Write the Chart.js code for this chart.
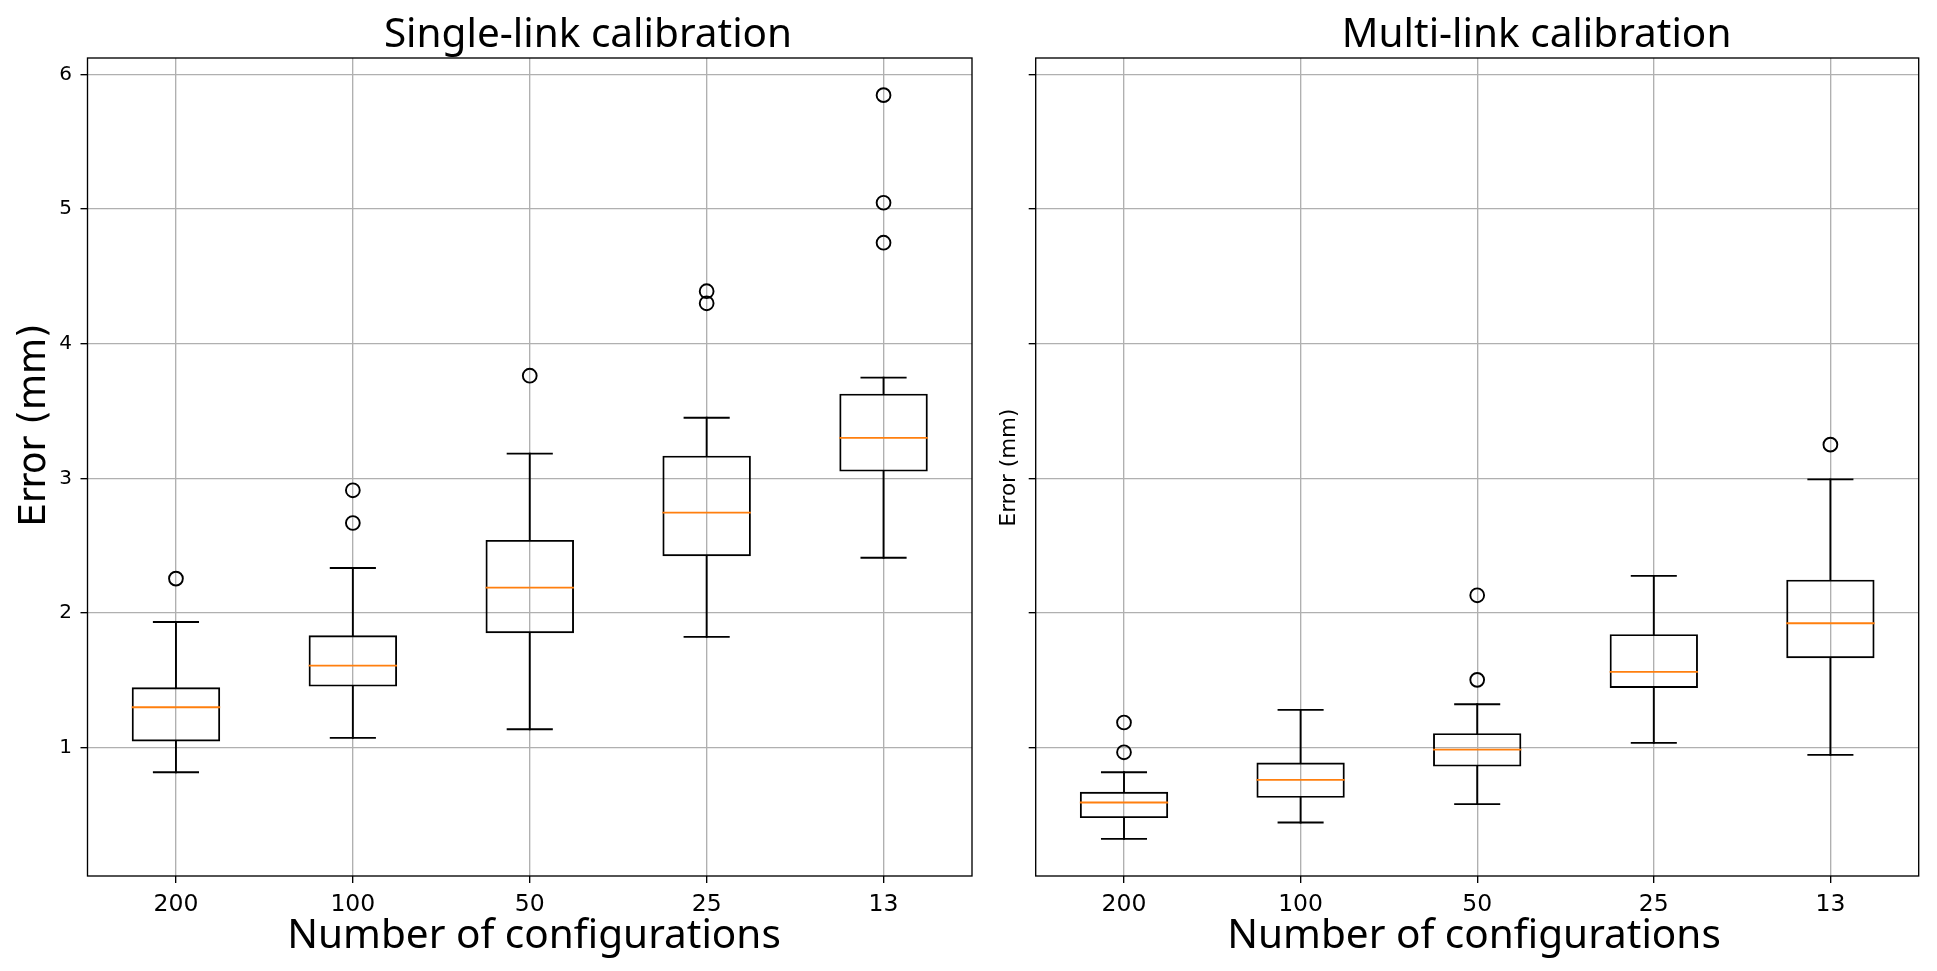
<!DOCTYPE html>
<html><head><meta charset="utf-8">
<script src="https://cdn.jsdelivr.net/npm/chart.js@4.4.1/dist/chart.umd.min.js"></script>
<style>
html,body{margin:0;padding:0;background:#fff;width:1937px;height:971px;overflow:hidden}
#c1{position:absolute;left:0;top:0}
#c2{position:absolute;left:985px;top:0}
</style>
</head><body>
<canvas id="c1" width="985" height="971"></canvas>
<canvas id="c2" width="952" height="971"></canvas>
<script>
// ---------- data ----------
const categories = ['200', '100', '50', '25', '13'];
const yTicks = [1, 2, 3, 4, 5, 6];
const yMin = 0.046, yMax = 6.122;

// Single-link calibration
const singleWhiskerLow  = [0.817, 1.072, 1.136, 1.822, 2.410];
const singleQ1          = [1.045, 1.453, 1.849, 2.421, 3.050];
const singleMedian      = [1.300, 1.609, 2.188, 2.745, 3.300];
const singleQ3          = [1.448, 1.834, 2.542, 3.168, 3.629];
const singleWhiskerHigh = [1.933, 2.334, 3.183, 3.450, 3.748];
const singleOutliers    = [[2.255], [2.668, 2.911], [3.762], [4.300, 4.390], [4.750, 5.047, 5.846]];

// Multi-link calibration
const multiWhiskerLow  = [0.322, 0.443, 0.580, 1.035, 0.946];
const multiQ1          = [0.476, 0.627, 0.859, 1.443, 1.664];
const multiMedian      = [0.592, 0.760, 0.985, 1.562, 1.923];
const multiQ3          = [0.671, 0.889, 1.107, 1.842, 2.247];
const multiWhiskerHigh = [0.817, 1.280, 1.322, 2.275, 2.992];
const multiOutliers    = [[0.965, 1.186], [], [1.503, 2.131], [], [3.250]];

// ---------- drawing helpers ----------
const LW = 1.9, GRID_LW = 1.35;
const boxPlugin = {
  id: 'boxextras',
  beforeDatasetsDraw(chart) {
    const a = chart.chartArea, ctx = chart.ctx;
    ctx.save();
    ctx.strokeStyle = '#000'; ctx.lineWidth = GRID_LW;
    ctx.strokeRect(a.left, a.top, a.right - a.left, a.bottom - a.top);
    ctx.restore();
  },
  afterDatasetsDraw(chart) {
    const st = chart.options.plugins.boxextras.stats;
    const xs = chart.scales.x, ys = chart.scales.y, ctx = chart.ctx;
    const bw = (xs.getPixelForValue(1) - xs.getPixelForValue(0)) * 0.5;
    ctx.save();
    categories.forEach((c, i) => {
      const x = xs.getPixelForValue(i);
      ctx.lineCap = 'square';
      ctx.strokeStyle = '#000'; ctx.lineWidth = LW;
      ctx.beginPath();
      ctx.moveTo(x, ys.getPixelForValue(st.q3[i])); ctx.lineTo(x, ys.getPixelForValue(st.hi[i]));
      ctx.moveTo(x, ys.getPixelForValue(st.q1[i])); ctx.lineTo(x, ys.getPixelForValue(st.lo[i]));
      ctx.stroke();
      ctx.beginPath();
      ctx.moveTo(x - bw / 4, ys.getPixelForValue(st.hi[i])); ctx.lineTo(x + bw / 4, ys.getPixelForValue(st.hi[i]));
      ctx.moveTo(x - bw / 4, ys.getPixelForValue(st.lo[i])); ctx.lineTo(x + bw / 4, ys.getPixelForValue(st.lo[i]));
      ctx.stroke();
      ctx.lineCap = 'butt';
      ctx.strokeStyle = '#ff7f0e';
      ctx.beginPath();
      ctx.moveTo(x - bw / 2, ys.getPixelForValue(st.med[i])); ctx.lineTo(x + bw / 2, ys.getPixelForValue(st.med[i]));
      ctx.stroke();
    });
    ctx.restore();
  },
  afterDraw(chart) {
    const o = chart.options.plugins.boxextras, ctx = chart.ctx;
    ctx.save();
    ctx.fillStyle = '#000';
    ctx.textAlign = 'center'; ctx.textBaseline = 'alphabetic';
    ctx.font = "40.5px 'Noto Sans'";
    ctx.fillText(o.title, o.titleX, 47);
    ctx.fillText('Number of configurations', o.xlabelX, 947.5);
    ctx.translate(o.ylabelX, o.ylabelY);
    ctx.rotate(-Math.PI / 2);
    ctx.font = o.ylabelSize + "px 'DejaVu Sans'";
    ctx.fillText('Error (mm)', 0, 0);
    ctx.restore();
  }
};

function buildChart(id, s, L) {
  const pts = [];
  s.out.forEach((arr, i) => arr.forEach(v => pts.push({ x: categories[i], y: v })));
  return new Chart(document.getElementById(id), {
    type: 'bar',
    data: {
      labels: categories,
      datasets: [
        { type: 'bar', data: s.q1.map((v, i) => [v, s.q3[i]]),
          backgroundColor: 'rgba(0,0,0,0)', borderColor: '#000', borderWidth: LW,
          borderSkipped: false, barPercentage: 0.5, categoryPercentage: 1, order: 2 },
        { type: 'line', data: pts, showLine: false, pointStyle: 'circle',
          pointRadius: 6.9, pointBorderWidth: LW, pointBorderColor: '#000',
          pointBackgroundColor: 'rgba(0,0,0,0)', order: 1 }
      ]
    },
    options: {
      responsive: false, animation: false,
      layout: { padding: { left: 0, right: L.padRight, top: 58, bottom: 0 } },
      plugins: {
        legend: { display: false }, tooltip: { enabled: false },
        boxextras: { stats: s, title: L.title, titleX: L.titleX, xlabelX: L.xlabelX,
                     ylabelX: L.ylabelX, ylabelY: L.ylabelY, ylabelSize: L.ylabelSize }
      },
      scales: {
        x: {
          type: 'category', offset: true,
          grid: { offset: false, color: '#b0b0b0', lineWidth: GRID_LW, tickColor: '#000',
                  tickLength: 7, tickWidth: GRID_LW, drawTicks: true },
          border: { display: false },
          ticks: { color: '#000', font: { family: 'DejaVu Sans', size: 23.5 }, padding: 8,
                   maxRotation: 0, autoSkip: false },
          afterFit: sc => { sc.height = 95; }
        },
        y: {
          type: 'linear', min: yMin, max: yMax,
          afterBuildTicks: sc => { sc.ticks = yTicks.map(v => ({ value: v })); },
          grid: { color: '#b0b0b0', lineWidth: GRID_LW, tickColor: '#000',
                  tickLength: 7, tickWidth: GRID_LW, drawTicks: true },
          border: { display: false },
          ticks: { display: L.showY, color: '#000', font: { family: 'DejaVu Sans', size: 20 },
                   padding: 8.5 },
          afterFit: sc => { sc.width = L.yWidth; }
        }
      }
    },
    plugins: [boxPlugin]
  });
}

buildChart('c1',
  { lo: singleWhiskerLow, q1: singleQ1, med: singleMedian, q3: singleQ3, hi: singleWhiskerHigh, out: singleOutliers },
  { padRight: 13, yWidth: 87.5, showY: true, title: 'Single-link calibration', titleX: 588,
    xlabelX: 534, ylabelX: 45, ylabelY: 425, ylabelSize: 37 });
buildChart('c2',
  { lo: multiWhiskerLow, q1: multiQ1, med: multiMedian, q3: multiQ3, hi: multiWhiskerHigh, out: multiOutliers },
  { padRight: 18.3, yWidth: 50.7, showY: false, title: 'Multi-link calibration', titleX: 551.6,
    xlabelX: 489, ylabelX: 30, ylabelY: 467.5, ylabelSize: 21.5 });
</script>
</body></html>
